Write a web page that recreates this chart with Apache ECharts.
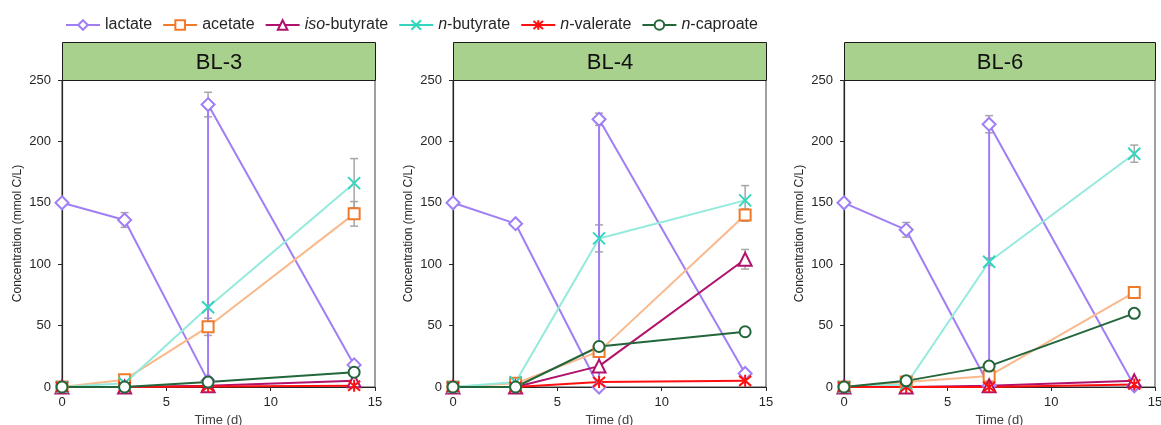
<!DOCTYPE html>
<html>
<head>
<meta charset="utf-8">
<script src="https://cdn.jsdelivr.net/npm/echarts@6/dist/echarts.min.js"></script>
<style>html,body{margin:0;padding:0;background:#fff;}#c{width:1161px;height:425px;}</style>
</head>
<body>
<div id="c"></div>
<script>
// ---- data ----
const panels = ['BL-3', 'BL-4', 'BL-6'];
const days = [0, 3, 7, 14];
const lactateDays = [0, 3, 7, 7, 14];
const seriesNames = ['lactate', 'acetate', 'iso-butyrate', 'n-butyrate', 'n-valerate', 'n-caproate'];
const xTicks = [0, 5, 10, 15];
const yTicks = [0, 50, 100, 150, 200, 250];

const lactate_BL3 = [150, 136, 5, 230, 18];
const lactateErr_BL3 = [0, 6, 0, 10, 2];
const acetate_BL3 = [0, 6, 49, 141];
const acetateErr_BL3 = [0, 0, 7, 10];
const isoButyrate_BL3 = [0, 0, 1, 5];
const isoButyrateErr_BL3 = [0, 0, 0, 0];
const nButyrate_BL3 = [0, 3, 65, 166];
const nButyrateErr_BL3 = [0, 0, 0, 20];
const nValerate_BL3 = [0, 0, 0.5, 1];
const nCaproate_BL3 = [0, 0, 4, 12];

const lactate_BL4 = [150, 133, 0, 218, 11];
const lactateErr_BL4 = [0, 2, 0, 5, 1];
const acetate_BL4 = [0, 3, 29, 140];
const acetateErr_BL4 = [0, 0, 2, 5];
const isoButyrate_BL4 = [0, 0, 17, 104];
const isoButyrateErr_BL4 = [0, 0, 1, 8];
const nButyrate_BL4 = [0, 4, 121, 152];
const nButyrateErr_BL4 = [0, 0, 11, 12];
const nValerate_BL4 = [0, 0, 4, 5];
const nCaproate_BL4 = [0, 0, 33, 45];

const lactate_BL6 = [150, 128, 1, 214, 1];
const lactateErr_BL6 = [0, 6, 0, 7, 0];
const acetate_BL6 = [0, 4, 9, 77];
const acetateErr_BL6 = [0, 0, 2, 3];
const isoButyrate_BL6 = [0, 0, 1, 5];
const isoButyrateErr_BL6 = [0, 0, 0, 0];
const nButyrate_BL6 = [0, 2, 102, 190];
const nButyrateErr_BL6 = [0, 0, 3, 7];
const nValerate_BL6 = [0, 0, 0, 2];
const nCaproate_BL6 = [0, 5, 17, 60];

// ---- assembly ----
const panelData = [
  {lac: lactate_BL3, lacE: lactateErr_BL3, ace: acetate_BL3, aceE: acetateErr_BL3, iso: isoButyrate_BL3, isoE: isoButyrateErr_BL3, nbu: nButyrate_BL3, nbuE: nButyrateErr_BL3, nva: nValerate_BL3, nca: nCaproate_BL3},
  {lac: lactate_BL4, lacE: lactateErr_BL4, ace: acetate_BL4, aceE: acetateErr_BL4, iso: isoButyrate_BL4, isoE: isoButyrateErr_BL4, nbu: nButyrate_BL4, nbuE: nButyrateErr_BL4, nva: nValerate_BL4, nca: nCaproate_BL4},
  {lac: lactate_BL6, lacE: lactateErr_BL6, ace: acetate_BL6, aceE: acetateErr_BL6, iso: isoButyrate_BL6, isoE: isoButyrateErr_BL6, nbu: nButyrate_BL6, nbuE: nButyrateErr_BL6, nva: nValerate_BL6, nca: nCaproate_BL6}
];

const FONT = "'Liberation Sans', Arial, sans-serif";
const grids = [
  {left: 62, top: 80, width: 313, height: 307},
  {left: 453, top: 80, width: 313, height: 307},
  {left: 844, top: 80, width: 311, height: 307}
];
const colors = {
  lactate: '#a07ef5', acetate: '#f07a2a', acetateLine: '#f9b98c',
  iso: '#b0126c', nbu: '#33d6bd', nbuLine: '#93eadd', nva: '#ff1010', nca: '#22663a'
};
const xPath = 'path://M0,0L10,10M10,0L0,10';
const starPath = 'path://M0,0L10,10M10,0L0,10M5,-1L5,11';

function pairs(xs, ys) { return xs.map((x, i) => [x, ys[i]]); }
function errs(xs, ys, es) {
  const out = [];
  xs.forEach((x, i) => { if (es[i] > 0) out.push([x, ys[i] - es[i], ys[i] + es[i]]); });
  return out;
}

const series = [];
const xAxes = [], yAxes = [], graphics = [];
grids.forEach((g, k) => {
  xAxes.push({
    gridIndex: k, type: 'value', min: 0, max: 15, interval: 5,
    name: 'Time (d)', nameLocation: 'middle', nameGap: 25,
    nameTextStyle: {fontFamily: FONT, fontSize: 13, color: '#404040'},
    axisLine: {lineStyle: {color: '#262626', width: 1.2}},
    axisTick: {show: true, length: 4, lineStyle: {color: '#262626'}},
    axisLabel: {fontFamily: FONT, fontSize: 13, color: '#262626', margin: 9},
    splitLine: {show: false}
  });
  yAxes.push({
    gridIndex: k, type: 'value', min: 0, max: 250, interval: 50,
    name: 'Concentration (mmol C/L)', nameLocation: 'middle', nameGap: 38,
    nameTextStyle: {fontFamily: FONT, fontSize: 12, color: '#262626'},
    axisLine: {show: true, lineStyle: {color: '#262626', width: 1.2}},
    axisTick: {show: true, length: 4, lineStyle: {color: '#262626'}},
    axisLabel: {fontFamily: FONT, fontSize: 13, color: '#262626', margin: 11},
    splitLine: {show: false}
  });
  graphics.push({
    type: 'group', left: g.left, top: 42,
    children: [
      {type: 'rect', shape: {x: 0, y: 0, width: g.width, height: 38},
       style: {fill: '#a9d18e', stroke: '#1a1a1a', lineWidth: 1}},
      {type: 'text', x: g.width / 2, y: 20,
       style: {text: panels[k], fontFamily: FONT, fontSize: 22, fill: '#111', align: 'center', verticalAlign: 'middle'}}
    ]
  });

  const d = panelData[k];
  const base = {type: 'line', xAxisIndex: k, yAxisIndex: k, symbolSize: 11, z: 3,
                emphasis: {disabled: true}, animation: false};
  series.push(Object.assign({}, base, {
    name: 'lactate', data: pairs(lactateDays, d.lac), symbol: 'emptyDiamond', symbolSize: 13,
    lineStyle: {color: colors.lactate, width: 2}, itemStyle: {color: colors.lactate, borderWidth: 2}
  }));
  series.push(Object.assign({}, base, {
    name: 'acetate', data: pairs(days, d.ace), symbol: 'emptyRect', symbolSize: 11,
    lineStyle: {color: colors.acetateLine, width: 2}, itemStyle: {color: colors.acetate, borderWidth: 2}
  }));
  series.push(Object.assign({}, base, {
    name: 'iso-butyrate', data: pairs(days, d.iso), symbol: 'emptyTriangle', symbolSize: 13,
    lineStyle: {color: colors.iso, width: 2}, itemStyle: {color: colors.iso, borderWidth: 2}
  }));
  series.push(Object.assign({}, base, {
    name: 'n-butyrate', data: pairs(days, d.nbu), symbol: xPath, symbolSize: 12,
    lineStyle: {color: colors.nbuLine, width: 2}, itemStyle: {color: colors.nbu, borderColor: colors.nbu, borderWidth: 2}
  }));
  series.push(Object.assign({}, base, {
    name: 'n-valerate', data: pairs(days, d.nva), symbol: starPath, symbolSize: 12,
    lineStyle: {color: colors.nva, width: 2}, itemStyle: {color: colors.nva, borderColor: colors.nva, borderWidth: 2}
  }));
  series.push(Object.assign({}, base, {
    name: 'n-caproate', data: pairs(days, d.nca), symbol: 'emptyCircle', symbolSize: 11,
    lineStyle: {color: colors.nca, width: 2}, itemStyle: {color: colors.nca, borderWidth: 2}
  }));

  const errData = [].concat(
    errs(lactateDays, d.lac, d.lacE),
    errs(days, d.ace, d.aceE),
    errs(days, d.iso, d.isoE),
    errs(days, d.nbu, d.nbuE)
  );
  series.push({
    type: 'custom', name: 'err' + k, xAxisIndex: k, yAxisIndex: k, z: 2, animation: false,
    data: errData, silent: true,
    renderItem: function (params, api) {
      const x = api.value(0);
      const lo = api.coord([x, api.value(1)]);
      const hi = api.coord([x, api.value(2)]);
      const w = 4;
      const st = {stroke: '#a6a6a6', lineWidth: 1.5};
      return {type: 'group', children: [
        {type: 'line', shape: {x1: lo[0], y1: lo[1], x2: hi[0], y2: hi[1]}, style: st},
        {type: 'line', shape: {x1: lo[0] - w, y1: lo[1], x2: lo[0] + w, y2: lo[1]}, style: st},
        {type: 'line', shape: {x1: hi[0] - w, y1: hi[1], x2: hi[0] + w, y2: hi[1]}, style: st}
      ]};
    }
  });
});

const legendData = seriesNames.map(n => {
  if (n === 'acetate') return {name: n, lineStyle: {color: colors.acetate}};
  if (n === 'n-butyrate') return {name: n, lineStyle: {color: colors.nbu}};
  return {name: n};
});

const chart = echarts.init(document.getElementById('c'), null, {renderer: 'canvas'});
chart.setOption({
  animation: false,
  backgroundColor: '#fff',
  grid: grids.map(g => Object.assign({show: true, borderColor: '#404040', borderWidth: 1,
    backgroundColor: 'transparent', containLabel: false, outerBoundsMode: 'none'}, g)),
  xAxis: xAxes,
  yAxis: yAxes,
  legend: {
    data: legendData, left: 60, top: 12, itemWidth: 34, itemHeight: 12, itemGap: 10,
    textStyle: {fontFamily: FONT, fontSize: 16, color: '#262626',
      rich: {i: {fontFamily: FONT, fontSize: 16, fontStyle: 'italic', color: '#262626'}}},
    formatter: function (name) {
      const m = name.match(/^(iso|n)-(.*)$/);
      return m ? '{i|' + m[1] + '}-' + m[2] : name;
    }
  },
  graphic: graphics,
  series: series
});
</script>
</body>
</html>
